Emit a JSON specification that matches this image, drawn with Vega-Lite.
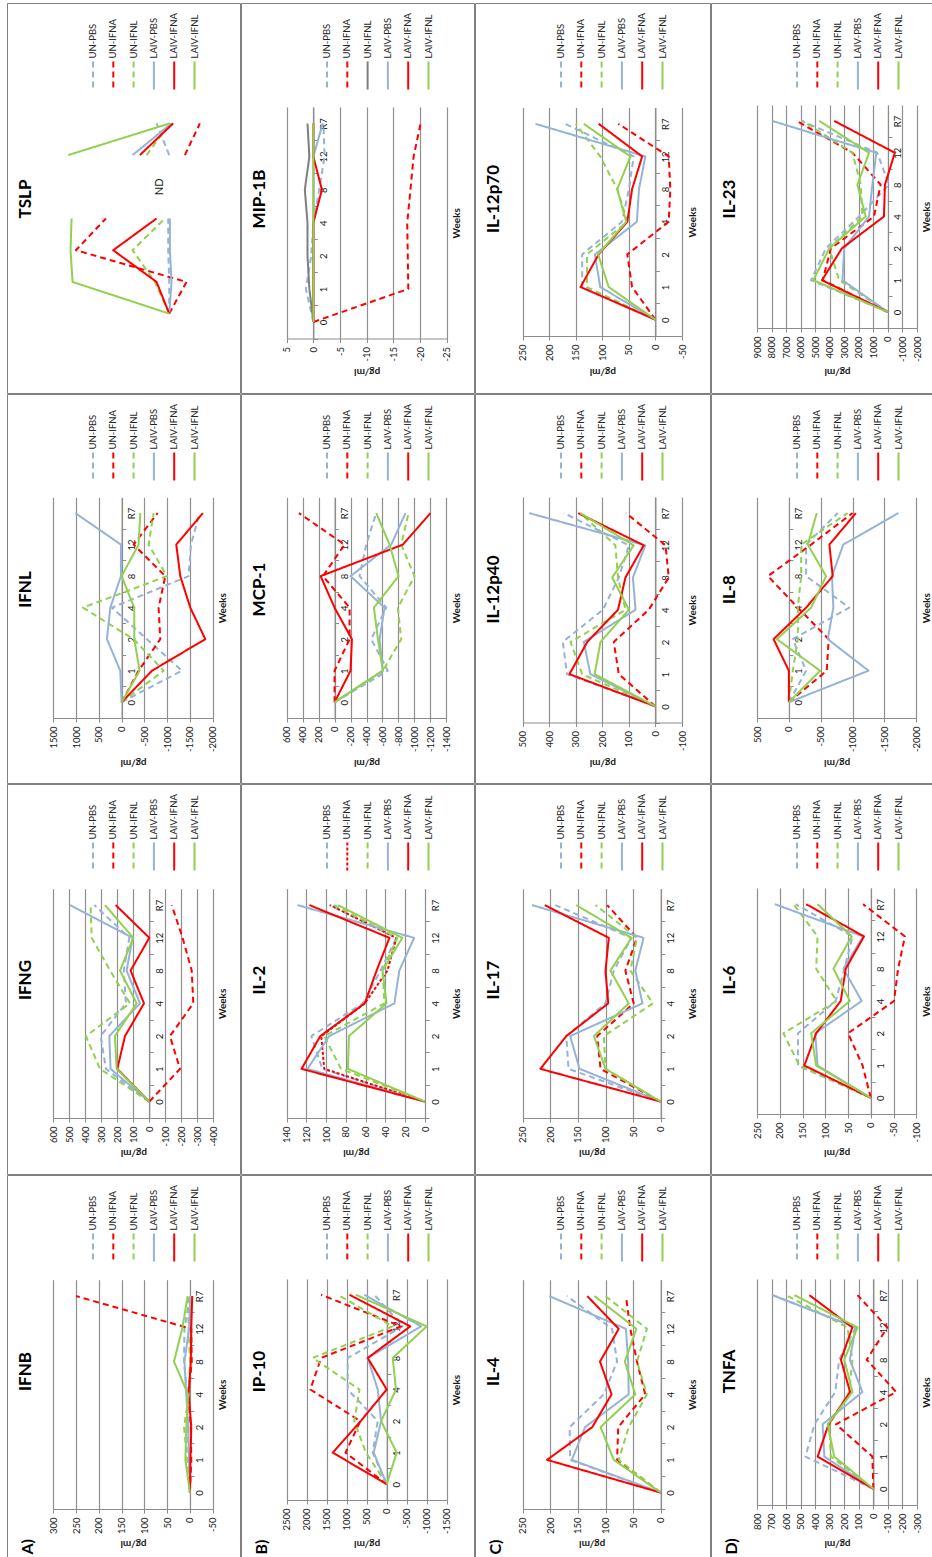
{
  "$schema": "https://vega.github.io/schema/vega-lite/v6.json",
  "background": "white",
  "padding": {"left": 6, "top": 2, "right": 0, "bottom": 0},
  "spacing": -2,
  "resolve": {"scale": {"color": "independent", "strokeDash": "independent"}, "legend": {"color": "independent", "strokeDash": "independent"}},
  "config": {
    "font": "Lato",
    "view": {"stroke": "#808080", "strokeWidth": 1},
    "title": {"font": "Lato", "fontSize": 17, "fontWeight": "bold", "color": "#000000", "orient": "left", "anchor": "middle", "offset": -27.5, "baseline": "middle", "dx": -1},
    "axis": {"labelFont": "Lato", "labelFontSize": 9.5, "labelColor": "#1a1a1a", "titleFont": "Lato", "titleFontSize": 10, "titleFontWeight": "bold", "titleColor": "#1a1a1a", "domainColor": "#8c8c8c", "tickColor": "#8c8c8c", "gridColor": "#8f8f8f", "gridWidth": 1.2, "domainWidth": 1, "tickWidth": 1},
    "legend": {"labelFont": "Lato", "labelFontSize": 9.5, "labelColor": "#262626", "columnPadding": 9.3, "padding": 0, "labelLimit": 200}
  },
  "datasets": {
    "cytokines": [
      {"panel":"IFNB","series":"UN-PBS","0":0,"1":3,"2":4,"4":6,"8":13,"12":12,"R7":0},
      {"panel":"IFNB","series":"UN-IFNA","0":0,"1":-3,"2":-2,"4":3,"8":-4,"12":-3,"R7":250},
      {"panel":"IFNB","series":"UN-IFNL","0":0,"1":6,"2":13,"4":2,"8":0,"12":3,"R7":4},
      {"panel":"IFNB","series":"LAIV-PBS","0":0,"1":2,"2":4,"4":8,"8":12,"12":2,"R7":-1},
      {"panel":"IFNB","series":"LAIV-IFNA","0":0,"1":-1,"2":-3,"4":3,"8":-2,"12":-3,"R7":-5},
      {"panel":"IFNB","series":"LAIV-IFNL","0":0,"1":10,"2":8,"4":4,"8":35,"12":17,"R7":5},

      {"panel":"IP-10","series":"UN-PBS","0":0,"1":350,"2":225,"4":975,"8":975,"12":-400,"R7":310},
      {"panel":"IP-10","series":"UN-IFNA","0":0,"1":1030,"2":660,"4":1910,"8":1640,"12":-360,"R7":1640},
      {"panel":"IP-10","series":"UN-IFNL","0":0,"1":520,"2":810,"4":680,"8":1850,"12":-150,"R7":1220},
      {"panel":"IP-10","series":"LAIV-PBS","0":0,"1":325,"2":140,"4":225,"8":475,"12":-860,"R7":560},
      {"panel":"IP-10","series":"LAIV-IFNA","0":0,"1":1350,"2":650,"4":0,"8":475,"12":-590,"R7":930},
      {"panel":"IP-10","series":"LAIV-IFNL","0":0,"1":-250,"2":140,"4":-233,"8":-150,"12":-1000,"R7":770},

      {"panel":"IL-4","series":"UN-PBS","0":0,"1":164,"2":165,"4":103,"8":79,"12":88,"R7":170},
      {"panel":"IL-4","series":"UN-IFNA","0":0,"1":79,"2":77,"4":28,"8":43,"12":55,"R7":63},
      {"panel":"IL-4","series":"UN-IFNL","0":0,"1":76,"2":58,"4":25,"8":43,"12":25,"R7":100},
      {"panel":"IL-4","series":"LAIV-PBS","0":0,"1":161,"2":137,"4":58,"8":59,"12":63,"R7":202},
      {"panel":"IL-4","series":"LAIV-IFNA","0":0,"1":206,"2":124,"4":89,"8":110,"12":76,"R7":133},
      {"panel":"IL-4","series":"LAIV-IFNL","0":0,"1":85,"2":109,"4":46,"8":65,"12":44,"R7":120},

      {"panel":"TNFA","series":"UN-PBS","0":0,"1":467,"2":405,"4":262,"8":235,"12":121,"R7":690},
      {"panel":"TNFA","series":"UN-IFNA","0":0,"1":7,"2":257,"4":-157,"8":46,"12":-96,"R7":109},
      {"panel":"TNFA","series":"UN-IFNL","0":0,"1":292,"2":303,"4":166,"8":144,"12":178,"R7":600},
      {"panel":"TNFA","series":"LAIV-PBS","0":0,"1":337,"2":349,"4":75,"8":162,"12":121,"R7":695},
      {"panel":"TNFA","series":"LAIV-IFNA","0":0,"1":383,"2":308,"4":160,"8":223,"12":144,"R7":440},
      {"panel":"TNFA","series":"LAIV-IFNL","0":0,"1":269,"2":314,"4":144,"8":200,"12":109,"R7":542},

      {"panel":"IFNG","series":"UN-PBS","0":0,"1":271,"2":304,"4":146,"8":160,"12":125,"R7":344},
      {"panel":"IFNG","series":"UN-IFNA","0":0,"1":-192,"2":-129,"4":-275,"8":-265,"12":-208,"R7":-140},
      {"panel":"IFNG","series":"UN-IFNL","0":0,"1":308,"2":396,"4":121,"8":245,"12":360,"R7":367},
      {"panel":"IFNG","series":"LAIV-PBS","0":0,"1":242,"2":250,"4":58,"8":142,"12":104,"R7":496},
      {"panel":"IFNG","series":"LAIV-IFNA","0":0,"1":200,"2":152,"4":33,"8":117,"12":0,"R7":210},
      {"panel":"IFNG","series":"LAIV-IFNL","0":0,"1":204,"2":215,"4":79,"8":183,"12":100,"R7":277},

      {"panel":"IL-2","series":"UN-PBS","0":0,"1":104,"2":115,"4":63,"8":45,"12":29,"R7":97},
      {"panel":"IL-2","series":"UN-IFNA","0":0,"1":102,"2":105,"4":61,"8":38,"12":29,"R7":96},
      {"panel":"IL-2","series":"UN-IFNL","0":0,"1":85,"2":102,"4":41,"8":43,"12":28,"R7":92},
      {"panel":"IL-2","series":"LAIV-PBS","0":0,"1":119,"2":97,"4":31,"8":26,"12":11,"R7":129},
      {"panel":"IL-2","series":"LAIV-IFNA","0":0,"1":125,"2":106,"4":61,"8":49,"12":36,"R7":117},
      {"panel":"IL-2","series":"LAIV-IFNL","0":0,"1":78,"2":77,"4":39,"8":43,"12":23,"R7":88},

      {"panel":"IL-17","series":"UN-PBS","0":0,"1":167,"2":171,"4":100,"8":85,"12":53,"R7":191},
      {"panel":"IL-17","series":"UN-IFNA","0":0,"1":109,"2":115,"4":49,"8":64,"12":43,"R7":97},
      {"panel":"IL-17","series":"UN-IFNL","0":0,"1":100,"2":103,"4":14,"8":55,"12":43,"R7":118},
      {"panel":"IL-17","series":"LAIV-PBS","0":0,"1":147,"2":164,"4":33,"8":46,"12":31,"R7":233},
      {"panel":"IL-17","series":"LAIV-IFNA","0":0,"1":218,"2":171,"4":95,"8":100,"12":94,"R7":210},
      {"panel":"IL-17","series":"LAIV-IFNL","0":0,"1":100,"2":121,"4":58,"8":91,"12":53,"R7":153},

      {"panel":"IL-6","series":"UN-PBS","0":0,"1":160,"2":160,"4":77,"8":58,"12":40,"R7":165},
      {"panel":"IL-6","series":"UN-IFNA","0":0,"1":18,"2":50,"4":-51,"8":-60,"12":-75,"R7":17},
      {"panel":"IL-6","series":"UN-IFNL","0":0,"1":157,"2":192,"4":75,"8":120,"12":117,"R7":170},
      {"panel":"IL-6","series":"LAIV-PBS","0":0,"1":117,"2":122,"4":20,"8":60,"12":17,"R7":211},
      {"panel":"IL-6","series":"LAIV-IFNA","0":0,"1":146,"2":120,"4":66,"8":55,"12":15,"R7":142},
      {"panel":"IL-6","series":"LAIV-IFNL","0":0,"1":120,"2":131,"4":46,"8":82,"12":42,"R7":117},

      {"panel":"IFNL","series":"UN-PBS","0":0,"1":-1325,"2":-556,"4":212,"8":-1471,"12":-1523,"R7":-1713},
      {"panel":"IFNL","series":"UN-IFNA","0":0,"1":-373,"2":-849,"4":-812,"8":-959,"12":-264,"R7":-790},
      {"panel":"IFNL","series":"UN-IFNL","0":0,"1":-922,"2":-264,"4":849,"8":-995,"12":-593,"R7":-703},
      {"panel":"IFNL","series":"LAIV-PBS","0":0,"1":30,"2":322,"4":249,"8":15,"12":15,"R7":1017},
      {"panel":"IFNL","series":"LAIV-IFNA","0":0,"1":-666,"2":-1837,"4":-1508,"8":-1288,"12":-1200,"R7":-1786},
      {"panel":"IFNL","series":"LAIV-IFNL","0":0,"1":-395,"2":-278,"4":-278,"8":0,"12":-373,"R7":-410},

      {"panel":"MCP-1","series":"UN-PBS","0":0,"1":-668,"2":-459,"4":-647,"8":-313,"12":-397,"R7":-522},
      {"panel":"MCP-1","series":"UN-IFNA","0":0,"1":0,"2":-188,"4":-188,"8":146,"12":-125,"R7":447},
      {"panel":"MCP-1","series":"UN-IFNL","0":0,"1":-605,"2":-835,"4":-793,"8":-1002,"12":-835,"R7":-927},
      {"panel":"MCP-1","series":"LAIV-PBS","0":0,"1":-605,"2":-564,"4":-626,"8":-200,"12":-710,"R7":-889},
      {"panel":"MCP-1","series":"LAIV-IFNA","0":0,"1":-200,"2":-217,"4":0,"8":175,"12":-856,"R7":-1202},
      {"panel":"MCP-1","series":"LAIV-IFNL","0":0,"1":-605,"2":-543,"4":-493,"8":-802,"12":-689,"R7":-522},

      {"panel":"IL-12p40","series":"UN-PBS","0":0,"1":333,"2":349,"4":198,"8":138,"12":100,"R7":345},
      {"panel":"IL-12p40","series":"UN-IFNA","0":0,"1":138,"2":157,"4":25,"8":-50,"12":-38,"R7":111},
      {"panel":"IL-12p40","series":"UN-IFNL","0":0,"1":276,"2":320,"4":113,"8":141,"12":151,"R7":283},
      {"panel":"IL-12p40","series":"LAIV-PBS","0":0,"1":245,"2":270,"4":75,"8":85,"12":38,"R7":475},
      {"panel":"IL-12p40","series":"LAIV-IFNA","0":0,"1":324,"2":257,"4":141,"8":113,"12":44,"R7":291},
      {"panel":"IL-12p40","series":"LAIV-IFNL","0":0,"1":229,"2":207,"4":100,"8":163,"12":82,"R7":283},

      {"panel":"IL-8","series":"UN-PBS","0":0,"1":-271,"2":-62,"4":-948,"8":-271,"12":-271,"R7":-766},
      {"panel":"IL-8","series":"UN-IFNA","0":0,"1":-594,"2":-625,"4":-141,"8":328,"12":-349,"R7":-1000},
      {"panel":"IL-8","series":"UN-IFNL","0":0,"1":-62,"2":-141,"4":-141,"8":-193,"12":-193,"R7":-922},
      {"panel":"IL-8","series":"LAIV-PBS","0":0,"1":-1250,"2":-610,"4":-698,"8":-677,"12":-854,"R7":-1719},
      {"panel":"IL-8","series":"LAIV-IFNA","0":0,"1":0,"2":240,"4":-271,"8":-688,"12":-636,"R7":-1052},
      {"panel":"IL-8","series":"LAIV-IFNL","0":0,"1":-490,"2":188,"4":-349,"8":-584,"12":-297,"R7":-438},

      {"panel":"TSLP","series":"UN-PBS","0":0,"1":0,"2":14,"4":14,"8":null,"12":0,"R7":175},
      {"panel":"TSLP","series":"UN-IFNA","0":0,"1":-239,"2":1288,"4":874,"8":null,"12":-216,"R7":-423},
      {"panel":"TSLP","series":"UN-IFNL","0":0,"1":198,"2":506,"4":60,"8":null,"12":313,"R7":-9},
      {"panel":"TSLP","series":"LAIV-PBS","0":0,"1":-32,"2":-9,"4":-9,"8":null,"12":506,"R7":-32},
      {"panel":"TSLP","series":"LAIV-IFNA","0":0,"1":175,"2":773,"4":175,"8":null,"12":405,"R7":-55},
      {"panel":"TSLP","series":"LAIV-IFNL","0":0,"1":1334,"2":1362,"4":1348,"8":null,"12":1394,"R7":-9},

      {"panel":"MIP-1B","series":"UN-PBS","0":0,"1":1.4,"2":0.4,"4":0,"8":-1.1,"12":-2.1,"R7":-1.9},
      {"panel":"MIP-1B","series":"UN-IFNA","0":0,"1":-17.8,"2":-17.7,"4":-17.6,"8":-18.2,"12":-18.8,"R7":-20.1},
      {"panel":"MIP-1B","series":"UN-IFNL","0":0,"1":0.75,"2":1.1,"4":1.1,"8":1.6,"12":0.75,"R7":1.1},
      {"panel":"MIP-1B","series":"LAIV-PBS","0":0,"1":0,"2":0,"4":0,"8":0,"12":0,"R7":-1.75},
      {"panel":"MIP-1B","series":"LAIV-IFNA","0":0,"1":0,"2":0,"4":0,"8":-1.6,"12":0,"R7":0},
      {"panel":"MIP-1B","series":"LAIV-IFNL","0":0,"1":0,"2":0,"4":0,"8":0,"12":0,"R7":0},

      {"panel":"IL-12p70","series":"UN-PBS","0":0,"1":138,"2":138,"4":63,"8":50,"12":41,"R7":170},
      {"panel":"IL-12p70","series":"UN-IFNA","0":0,"1":44,"2":53,"4":-25,"8":-28,"12":-25,"R7":70},
      {"panel":"IL-12p70","series":"UN-IFNL","0":0,"1":129,"2":129,"4":53,"8":72,"12":104,"R7":150},
      {"panel":"IL-12p70","series":"LAIV-PBS","0":0,"1":104,"2":114,"4":35,"8":31,"12":19,"R7":226},
      {"panel":"IL-12p70","series":"LAIV-IFNA","0":0,"1":141,"2":107,"4":53,"8":44,"12":25,"R7":107},
      {"panel":"IL-12p70","series":"LAIV-IFNL","0":0,"1":88,"2":108,"4":55,"8":72,"12":47,"R7":135},

      {"panel":"IL-23","series":"UN-PBS","0":0,"1":5285,"2":4260,"4":1982,"8":-68,"12":729,"R7":5968},
      {"panel":"IL-23","series":"UN-IFNA","0":0,"1":4487,"2":3918,"4":957,"8":501,"12":2437,"R7":6264},
      {"panel":"IL-23","series":"UN-IFNL","0":0,"1":3349,"2":4032,"4":1754,"8":1868,"12":2437,"R7":5854},
      {"panel":"IL-23","series":"LAIV-PBS","0":0,"1":3121,"2":3007,"4":1298,"8":1071,"12":797,"R7":7950},
      {"panel":"IL-23","series":"LAIV-IFNA","0":0,"1":4533,"2":3166,"4":273,"8":205,"12":-478,"R7":3690},
      {"panel":"IL-23","series":"LAIV-IFNL","0":0,"1":5125,"2":4032,"4":1526,"8":2096,"12":1298,"R7":4715}
    ],
    "notes": [
      {"panel": "TSLP", "week": "8", "value": 130, "note": "ND"}
    ]
  },
  "hconcat": [
    {
      "title": {"text": "A)", "orient": "left", "anchor": "start", "offset": -37, "baseline": "middle", "font": "Lato", "fontSize": 16, "fontWeight": "bold", "dx": 4},
      "spacing": -2,
      "resolve": {"scale": {"color": "independent", "strokeDash": "independent"}, "legend": {"color": "independent", "strokeDash": "independent"}},
      "vconcat": [
        {
          "width": 233, "height": 390,
          "title": {"text": "TSLP"},
          "layer": [
            {
              "data": {"name": "cytokines"},
              "transform": [{"filter": {"field": "panel", "equal": "TSLP"}}, {"fold": ["0","1","2","4","8","12","R7"], "as": ["week","value"]}],
              "mark": {"type": "line", "strokeWidth": 2, "strokeJoin": "round"},
              "encoding": {
                "x": {"field": "value", "type": "quantitative",
                  "scale": {"domain": [-600, 1600], "range": [205.7, 46.3], "nice": false, "zero": false},
                  "axis": {"orient": "top", "offset": -326.5, "values": [-600,-400,-200,0,200,400,600,800,1000,1200,1400,1600], "labelExpr": "datum.value + ''", "grid": true, "tickSize": -4, "labelPadding": -4, "labelAngle": 270, "labelAlign": "right", "labelBaseline": "middle", "labelFlush": false, "labelOverlap": false, "title": "pg/ml", "titleX": 126, "titleY": 41.5, "titleAngle": 180, "titleAlign": "center", "titleBaseline": "middle"}},
                "y": {"field": "week", "type": "ordinal",
                  "scale": {"type": "band", "domain": ["0","1","2","4","8","12","R7"], "range": [326.5, 104.5], "paddingInner": 0, "paddingOuter": 0},
                  "axis": {"orient": "right", "offset": -70.8, "title": "Weeks", "titleX": 52.8, "titleY": 215.5, "grid": false, "tickBand": "extent", "tickSize": 4, "labelPadding": 1, "labelAngle": 270, "labelAlign": "center", "labelBaseline": "top", "titleAngle": 270, "titleAlign": "center", "titleBaseline": "middle"}},
                "color": {"field": "series", "type": "nominal",
                  "scale": {"domain": ["UN-PBS","UN-IFNA","UN-IFNL","LAIV-PBS","LAIV-IFNA","LAIV-IFNL"], "range": ["#95B3D7","#FF0000","#92D050","#95B3D7","#FF0000","#92D050"]},
                  "legend": {"title": null, "orient": "none", "legendX": 86, "legendY": 72.5, "direction": "horizontal", "symbolType": "M0,-1L0,1", "symbolSize": 784, "symbolStrokeWidth": 2, "encode": {"labels": {"update": {"angle": {"value": 270}, "align": {"value": "left"}, "baseline": {"value": "middle"}, "x": {"value": 0}, "y": {"value": -17}}}, "symbols": {"update": {"x": {"value": 0}, "y": {"value": 0}}}}}},
                "strokeDash": {"field": "series", "type": "nominal",
                  "scale": {"domain": ["UN-PBS","UN-IFNA","UN-IFNL","LAIV-PBS","LAIV-IFNA","LAIV-IFNL"], "range": [[6,4],[6,4],[6,4],[1,0],[1,0],[1,0]]},
                  "legend": {"title": null, "orient": "none", "legendX": 86, "legendY": 72.5, "direction": "horizontal", "symbolType": "M0,-1L0,1", "symbolSize": 784, "symbolStrokeWidth": 2, "encode": {"labels": {"update": {"angle": {"value": 270}, "align": {"value": "left"}, "baseline": {"value": "middle"}, "x": {"value": 0}, "y": {"value": -17}}}, "symbols": {"update": {"x": {"value": 0}, "y": {"value": 0}}}}}},
                "order": {"value": null}
              }
            },
            {
              "data": {"name": "notes"},
              "transform": [{"filter": {"field": "panel", "equal": "TSLP"}}],
              "mark": {"type": "text", "angle": 270, "font": "Lato", "fontSize": 11, "color": "#1a1a1a", "align": "center", "baseline": "middle"},
              "encoding": {
                "x": {"field": "value", "type": "quantitative", "axis": null},
                "y": {"field": "week", "type": "ordinal", "axis": null},
                "text": {"field": "note"}
              }
            }
          ]
        },
        {
          "width": 233, "height": 389,
          "title": {"text": "IFNL"},
          "layer": [
            {
              "data": {"name": "cytokines"},
              "transform": [{"filter": {"field": "panel", "equal": "IFNL"}}, {"fold": ["0","1","2","4","8","12","R7"], "as": ["week","value"]}],
              "mark": {"type": "line", "strokeWidth": 2, "strokeJoin": "round"},
              "encoding": {
                "x": {"field": "value", "type": "quantitative",
                  "scale": {"domain": [-2000, 1500], "range": [205.7, 46.3], "nice": false, "zero": false},
                  "axis": {"orient": "top", "offset": -324, "values": [-2000,-1500,-1000,-500,0,500,1000,1500], "labelExpr": "datum.value + ''", "grid": true, "tickSize": -4, "labelPadding": -4, "labelAngle": 270, "labelAlign": "right", "labelBaseline": "middle", "labelFlush": false, "labelOverlap": false, "title": "pg/ml", "titleX": 126, "titleY": 44, "titleAngle": 180, "titleAlign": "center", "titleBaseline": "middle"}},
                "y": {"field": "week", "type": "ordinal",
                  "scale": {"type": "band", "domain": ["0","1","2","4","8","12","R7"], "range": [324, 103.3], "paddingInner": 0, "paddingOuter": 0},
                  "axis": {"orient": "right", "offset": -118.4, "title": "Weeks", "titleX": 100.4, "titleY": 213.65, "grid": false, "tickBand": "extent", "tickSize": 4, "labelPadding": 1, "labelAngle": 270, "labelAlign": "center", "labelBaseline": "top", "titleAngle": 270, "titleAlign": "center", "titleBaseline": "middle"}},
                "color": {"field": "series", "type": "nominal",
                  "scale": {"domain": ["UN-PBS","UN-IFNA","UN-IFNL","LAIV-PBS","LAIV-IFNA","LAIV-IFNL"], "range": ["#95B3D7","#FF0000","#92D050","#95B3D7","#FF0000","#92D050"]},
                  "legend": {"title": null, "orient": "none", "legendX": 86, "legendY": 72.5, "direction": "horizontal", "symbolType": "M0,-1L0,1", "symbolSize": 784, "symbolStrokeWidth": 2, "encode": {"labels": {"update": {"angle": {"value": 270}, "align": {"value": "left"}, "baseline": {"value": "middle"}, "x": {"value": 0}, "y": {"value": -17}}}, "symbols": {"update": {"x": {"value": 0}, "y": {"value": 0}}}}}},
                "strokeDash": {"field": "series", "type": "nominal",
                  "scale": {"domain": ["UN-PBS","UN-IFNA","UN-IFNL","LAIV-PBS","LAIV-IFNA","LAIV-IFNL"], "range": [[6,4],[6,4],[6,4],[1,0],[1,0],[1,0]]},
                  "legend": {"title": null, "orient": "none", "legendX": 86, "legendY": 72.5, "direction": "horizontal", "symbolType": "M0,-1L0,1", "symbolSize": 784, "symbolStrokeWidth": 2, "encode": {"labels": {"update": {"angle": {"value": 270}, "align": {"value": "left"}, "baseline": {"value": "middle"}, "x": {"value": 0}, "y": {"value": -17}}}, "symbols": {"update": {"x": {"value": 0}, "y": {"value": 0}}}}}},
                "order": {"value": null}
              }
            }
          ]
        },
        {
          "width": 233, "height": 390,
          "title": {"text": "IFNG"},
          "layer": [
            {
              "data": {"name": "cytokines"},
              "transform": [{"filter": {"field": "panel", "equal": "IFNG"}}, {"fold": ["0","1","2","4","8","12","R7"], "as": ["week","value"]}],
              "mark": {"type": "line", "strokeWidth": 2, "strokeJoin": "round"},
              "encoding": {
                "x": {"field": "value", "type": "quantitative",
                  "scale": {"domain": [-400, 600], "range": [206.3, 46.3], "nice": false, "zero": false},
                  "axis": {"orient": "top", "offset": -334, "values": [-400,-300,-200,-100,0,100,200,300,400,500,600], "labelExpr": "datum.value + ''", "grid": true, "tickSize": -4, "labelPadding": -4, "labelAngle": 270, "labelAlign": "right", "labelBaseline": "middle", "labelFlush": false, "labelOverlap": false, "title": "pg/ml", "titleX": 126.3, "titleY": 34, "titleAngle": 180, "titleAlign": "center", "titleBaseline": "middle"}},
                "y": {"field": "week", "type": "ordinal",
                  "scale": {"type": "band", "domain": ["0","1","2","4","8","12","R7"], "range": [334, 104.7], "paddingInner": 0, "paddingOuter": 0},
                  "axis": {"orient": "right", "offset": -90.7, "title": "Weeks", "titleX": 72.7, "titleY": 219.35, "grid": false, "tickBand": "extent", "tickSize": 4, "labelPadding": 1, "labelAngle": 270, "labelAlign": "center", "labelBaseline": "top", "titleAngle": 270, "titleAlign": "center", "titleBaseline": "middle"}},
                "color": {"field": "series", "type": "nominal",
                  "scale": {"domain": ["UN-PBS","UN-IFNA","UN-IFNL","LAIV-PBS","LAIV-IFNA","LAIV-IFNL"], "range": ["#95B3D7","#FF0000","#92D050","#95B3D7","#FF0000","#92D050"]},
                  "legend": {"title": null, "orient": "none", "legendX": 86, "legendY": 72.5, "direction": "horizontal", "symbolType": "M0,-1L0,1", "symbolSize": 784, "symbolStrokeWidth": 2, "encode": {"labels": {"update": {"angle": {"value": 270}, "align": {"value": "left"}, "baseline": {"value": "middle"}, "x": {"value": 0}, "y": {"value": -17}}}, "symbols": {"update": {"x": {"value": 0}, "y": {"value": 0}}}}}},
                "strokeDash": {"field": "series", "type": "nominal",
                  "scale": {"domain": ["UN-PBS","UN-IFNA","UN-IFNL","LAIV-PBS","LAIV-IFNA","LAIV-IFNL"], "range": [[6,4],[6,4],[6,4],[1,0],[1,0],[1,0]]},
                  "legend": {"title": null, "orient": "none", "legendX": 86, "legendY": 72.5, "direction": "horizontal", "symbolType": "M0,-1L0,1", "symbolSize": 784, "symbolStrokeWidth": 2, "encode": {"labels": {"update": {"angle": {"value": 270}, "align": {"value": "left"}, "baseline": {"value": "middle"}, "x": {"value": 0}, "y": {"value": -17}}}, "symbols": {"update": {"x": {"value": 0}, "y": {"value": 0}}}}}},
                "order": {"value": null}
              }
            }
          ]
        },
        {
          "width": 233, "height": 383,
          "title": {"text": "IFNB", "dx": -5},
          "layer": [
            {
              "data": {"name": "cytokines"},
              "transform": [{"filter": {"field": "panel", "equal": "IFNB"}}, {"fold": ["0","1","2","4","8","12","R7"], "as": ["week","value"]}],
              "mark": {"type": "line", "strokeWidth": 2, "strokeJoin": "round"},
              "encoding": {
                "x": {"field": "value", "type": "quantitative",
                  "scale": {"domain": [-50, 300], "range": [205.7, 46.3], "nice": false, "zero": false},
                  "axis": {"orient": "top", "offset": -334, "values": [-50,0,50,100,150,200,250,300], "labelExpr": "datum.value + ''", "grid": true, "tickSize": -4, "labelPadding": -4, "labelAngle": 270, "labelAlign": "right", "labelBaseline": "middle", "labelFlush": false, "labelOverlap": false, "title": "pg/ml", "titleX": 126, "titleY": 34, "titleAngle": 180, "titleAlign": "center", "titleBaseline": "middle"}},
                "y": {"field": "week", "type": "ordinal",
                  "scale": {"type": "band", "domain": ["0","1","2","4","8","12","R7"], "range": [334, 104.7], "paddingInner": 0, "paddingOuter": 0},
                  "axis": {"orient": "right", "offset": -50.1, "title": "Weeks", "titleX": 32.1, "titleY": 219.35, "grid": false, "tickBand": "extent", "tickSize": 4, "labelPadding": 1, "labelAngle": 270, "labelAlign": "center", "labelBaseline": "top", "titleAngle": 270, "titleAlign": "center", "titleBaseline": "middle"}},
                "color": {"field": "series", "type": "nominal",
                  "scale": {"domain": ["UN-PBS","UN-IFNA","UN-IFNL","LAIV-PBS","LAIV-IFNA","LAIV-IFNL"], "range": ["#95B3D7","#FF0000","#92D050","#95B3D7","#FF0000","#92D050"]},
                  "legend": {"title": null, "orient": "none", "legendX": 86, "legendY": 72.5, "direction": "horizontal", "symbolType": "M0,-1L0,1", "symbolSize": 784, "symbolStrokeWidth": 2, "encode": {"labels": {"update": {"angle": {"value": 270}, "align": {"value": "left"}, "baseline": {"value": "middle"}, "x": {"value": 0}, "y": {"value": -17}}}, "symbols": {"update": {"x": {"value": 0}, "y": {"value": 0}}}}}},
                "strokeDash": {"field": "series", "type": "nominal",
                  "scale": {"domain": ["UN-PBS","UN-IFNA","UN-IFNL","LAIV-PBS","LAIV-IFNA","LAIV-IFNL"], "range": [[6,4],[6,4],[6,4],[1,0],[1,0],[1,0]]},
                  "legend": {"title": null, "orient": "none", "legendX": 86, "legendY": 72.5, "direction": "horizontal", "symbolType": "M0,-1L0,1", "symbolSize": 784, "symbolStrokeWidth": 2, "encode": {"labels": {"update": {"angle": {"value": 270}, "align": {"value": "left"}, "baseline": {"value": "middle"}, "x": {"value": 0}, "y": {"value": -17}}}, "symbols": {"update": {"x": {"value": 0}, "y": {"value": 0}}}}}},
                "order": {"value": null}
              }
            }
          ]
        }
      ]
    },
    {
      "title": {"text": "B)", "orient": "left", "anchor": "start", "offset": -37, "baseline": "middle", "font": "Lato", "fontSize": 16, "fontWeight": "bold", "dx": 4},
      "spacing": -2,
      "resolve": {"scale": {"color": "independent", "strokeDash": "independent"}, "legend": {"color": "independent", "strokeDash": "independent"}},
      "vconcat": [
        {
          "width": 233, "height": 390,
          "title": {"text": "MIP-1B"},
          "layer": [
            {
              "data": {"name": "cytokines"},
              "transform": [{"filter": {"field": "panel", "equal": "MIP-1B"}}, {"fold": ["0","1","2","4","8","12","R7"], "as": ["week","value"]}],
              "mark": {"type": "line", "strokeWidth": 2, "strokeJoin": "round"},
              "encoding": {
                "x": {"field": "value", "type": "quantitative",
                  "scale": {"domain": [-25, 5], "range": [205.7, 45.7], "nice": false, "zero": false},
                  "axis": {"orient": "top", "offset": -335.5, "values": [-25,-20,-15,-10,-5,0,5], "labelExpr": "datum.value + ''", "grid": true, "tickSize": -4, "labelPadding": -4, "labelAngle": 270, "labelAlign": "right", "labelBaseline": "middle", "labelFlush": false, "labelOverlap": false, "title": "pg/ml", "titleX": 125.7, "titleY": 32.5, "titleAngle": 180, "titleAlign": "center", "titleBaseline": "middle"}},
                "y": {"field": "week", "type": "ordinal",
                  "scale": {"type": "band", "domain": ["0","1","2","4","8","12","R7"], "range": [335.5, 104], "paddingInner": 0, "paddingOuter": 0},
                  "axis": {"orient": "right", "offset": -160.6, "title": "Weeks", "titleX": 142.6, "titleY": 219.75, "grid": false, "tickBand": "extent", "tickSize": 4, "labelPadding": 1, "labelAngle": 270, "labelAlign": "center", "labelBaseline": "top", "titleAngle": 270, "titleAlign": "center", "titleBaseline": "middle"}},
                "color": {"field": "series", "type": "nominal",
                  "scale": {"domain": ["UN-PBS","UN-IFNA","UN-IFNL","LAIV-PBS","LAIV-IFNA","LAIV-IFNL"], "range": ["#95B3D7","#FF0000","#7F7F7F","#95B3D7","#FF0000","#92D050"]},
                  "legend": {"title": null, "orient": "none", "legendX": 86, "legendY": 72.5, "direction": "horizontal", "symbolType": "M0,-1L0,1", "symbolSize": 784, "symbolStrokeWidth": 2, "encode": {"labels": {"update": {"angle": {"value": 270}, "align": {"value": "left"}, "baseline": {"value": "middle"}, "x": {"value": 0}, "y": {"value": -17}}}, "symbols": {"update": {"x": {"value": 0}, "y": {"value": 0}}}}}},
                "strokeDash": {"field": "series", "type": "nominal",
                  "scale": {"domain": ["UN-PBS","UN-IFNA","UN-IFNL","LAIV-PBS","LAIV-IFNA","LAIV-IFNL"], "range": [[6,4],[6,4],[1,0],[1,0],[1,0],[1,0]]},
                  "legend": {"title": null, "orient": "none", "legendX": 86, "legendY": 72.5, "direction": "horizontal", "symbolType": "M0,-1L0,1", "symbolSize": 784, "symbolStrokeWidth": 2, "encode": {"labels": {"update": {"angle": {"value": 270}, "align": {"value": "left"}, "baseline": {"value": "middle"}, "x": {"value": 0}, "y": {"value": -17}}}, "symbols": {"update": {"x": {"value": 0}, "y": {"value": 0}}}}}},
                "order": {"value": null}
              }
            }
          ]
        },
        {
          "width": 233, "height": 389,
          "title": {"text": "MCP-1"},
          "layer": [
            {
              "data": {"name": "cytokines"},
              "transform": [{"filter": {"field": "panel", "equal": "MCP-1"}}, {"fold": ["0","1","2","4","8","12","R7"], "as": ["week","value"]}],
              "mark": {"type": "line", "strokeWidth": 2, "strokeJoin": "round"},
              "encoding": {
                "x": {"field": "value", "type": "quantitative",
                  "scale": {"domain": [-1400, 600], "range": [205.3, 45.7], "nice": false, "zero": false},
                  "axis": {"orient": "top", "offset": -324, "values": [-1400,-1200,-1000,-800,-600,-400,-200,0,200,400,600], "labelExpr": "datum.value + ''", "grid": true, "tickSize": -4, "labelPadding": -4, "labelAngle": 270, "labelAlign": "right", "labelBaseline": "middle", "labelFlush": false, "labelOverlap": false, "title": "pg/ml", "titleX": 125.5, "titleY": 44, "titleAngle": 180, "titleAlign": "center", "titleBaseline": "middle"}},
                "y": {"field": "week", "type": "ordinal",
                  "scale": {"type": "band", "domain": ["0","1","2","4","8","12","R7"], "range": [324, 103.3], "paddingInner": 0, "paddingOuter": 0},
                  "axis": {"orient": "right", "offset": -139.4, "title": "Weeks", "titleX": 121.4, "titleY": 213.65, "grid": false, "tickBand": "extent", "tickSize": 4, "labelPadding": 1, "labelAngle": 270, "labelAlign": "center", "labelBaseline": "top", "titleAngle": 270, "titleAlign": "center", "titleBaseline": "middle"}},
                "color": {"field": "series", "type": "nominal",
                  "scale": {"domain": ["UN-PBS","UN-IFNA","UN-IFNL","LAIV-PBS","LAIV-IFNA","LAIV-IFNL"], "range": ["#95B3D7","#FF0000","#92D050","#95B3D7","#FF0000","#92D050"]},
                  "legend": {"title": null, "orient": "none", "legendX": 86, "legendY": 72.5, "direction": "horizontal", "symbolType": "M0,-1L0,1", "symbolSize": 784, "symbolStrokeWidth": 2, "encode": {"labels": {"update": {"angle": {"value": 270}, "align": {"value": "left"}, "baseline": {"value": "middle"}, "x": {"value": 0}, "y": {"value": -17}}}, "symbols": {"update": {"x": {"value": 0}, "y": {"value": 0}}}}}},
                "strokeDash": {"field": "series", "type": "nominal",
                  "scale": {"domain": ["UN-PBS","UN-IFNA","UN-IFNL","LAIV-PBS","LAIV-IFNA","LAIV-IFNL"], "range": [[6,4],[6,4],[6,4],[1,0],[1,0],[1,0]]},
                  "legend": {"title": null, "orient": "none", "legendX": 86, "legendY": 72.5, "direction": "horizontal", "symbolType": "M0,-1L0,1", "symbolSize": 784, "symbolStrokeWidth": 2, "encode": {"labels": {"update": {"angle": {"value": 270}, "align": {"value": "left"}, "baseline": {"value": "middle"}, "x": {"value": 0}, "y": {"value": -17}}}, "symbols": {"update": {"x": {"value": 0}, "y": {"value": 0}}}}}},
                "order": {"value": null}
              }
            }
          ]
        },
        {
          "width": 233, "height": 390,
          "title": {"text": "IL-2"},
          "layer": [
            {
              "data": {"name": "cytokines"},
              "transform": [{"filter": {"field": "panel", "equal": "IL-2"}}, {"fold": ["0","1","2","4","8","12","R7"], "as": ["week","value"]}],
              "mark": {"type": "line", "strokeWidth": 2, "strokeJoin": "round"},
              "encoding": {
                "x": {"field": "value", "type": "quantitative",
                  "scale": {"domain": [0, 140], "range": [184, 45.7], "nice": false, "zero": false},
                  "axis": {"orient": "top", "offset": -334, "values": [0,20,40,60,80,100,120,140], "labelExpr": "datum.value + ''", "grid": true, "tickSize": -4, "labelPadding": -4, "labelAngle": 270, "labelAlign": "right", "labelBaseline": "middle", "labelFlush": false, "labelOverlap": false, "title": "pg/ml", "titleX": 114.85, "titleY": 34, "titleAngle": 180, "titleAlign": "center", "titleBaseline": "middle"}},
                "y": {"field": "week", "type": "ordinal",
                  "scale": {"type": "band", "domain": ["0","1","2","4","8","12","R7"], "range": [334, 104.7], "paddingInner": 0, "paddingOuter": 0},
                  "axis": {"orient": "right", "offset": -49, "title": "Weeks", "titleX": 31, "titleY": 219.35, "grid": false, "tickBand": "extent", "tickSize": 4, "labelPadding": 1, "labelAngle": 270, "labelAlign": "center", "labelBaseline": "top", "titleAngle": 270, "titleAlign": "center", "titleBaseline": "middle"}},
                "color": {"field": "series", "type": "nominal",
                  "scale": {"domain": ["UN-PBS","UN-IFNA","UN-IFNL","LAIV-PBS","LAIV-IFNA","LAIV-IFNL"], "range": ["#95B3D7","#FF0000","#92D050","#95B3D7","#FF0000","#92D050"]},
                  "legend": {"title": null, "orient": "none", "legendX": 86, "legendY": 72.5, "direction": "horizontal", "symbolType": "M0,-1L0,1", "symbolSize": 784, "symbolStrokeWidth": 2, "encode": {"labels": {"update": {"angle": {"value": 270}, "align": {"value": "left"}, "baseline": {"value": "middle"}, "x": {"value": 0}, "y": {"value": -17}}}, "symbols": {"update": {"x": {"value": 0}, "y": {"value": 0}}}}}},
                "strokeDash": {"field": "series", "type": "nominal",
                  "scale": {"domain": ["UN-PBS","UN-IFNA","UN-IFNL","LAIV-PBS","LAIV-IFNA","LAIV-IFNL"], "range": [[6,4],[3,2],[6,4],[1,0],[1,0],[1,0]]},
                  "legend": {"title": null, "orient": "none", "legendX": 86, "legendY": 72.5, "direction": "horizontal", "symbolType": "M0,-1L0,1", "symbolSize": 784, "symbolStrokeWidth": 2, "encode": {"labels": {"update": {"angle": {"value": 270}, "align": {"value": "left"}, "baseline": {"value": "middle"}, "x": {"value": 0}, "y": {"value": -17}}}, "symbols": {"update": {"x": {"value": 0}, "y": {"value": 0}}}}}},
                "order": {"value": null}
              }
            }
          ]
        },
        {
          "width": 233, "height": 383,
          "title": {"text": "IP-10", "dx": -5},
          "layer": [
            {
              "data": {"name": "cytokines"},
              "transform": [{"filter": {"field": "panel", "equal": "IP-10"}}, {"fold": ["0","1","2","4","8","12","R7"], "as": ["week","value"]}],
              "mark": {"type": "line", "strokeWidth": 2, "strokeJoin": "round"},
              "encoding": {
                "x": {"field": "value", "type": "quantitative",
                  "scale": {"domain": [-1500, 2500], "range": [205.7, 45.7], "nice": false, "zero": false},
                  "axis": {"orient": "top", "offset": -325, "values": [-1500,-1000,-500,0,500,1000,1500,2000,2500], "labelExpr": "datum.value + ''", "grid": true, "tickSize": -4, "labelPadding": -4, "labelAngle": 270, "labelAlign": "right", "labelBaseline": "middle", "labelFlush": false, "labelOverlap": false, "title": "pg/ml", "titleX": 125.7, "titleY": 43, "titleAngle": 180, "titleAlign": "center", "titleBaseline": "middle"}},
                "y": {"field": "week", "type": "ordinal",
                  "scale": {"type": "band", "domain": ["0","1","2","4","8","12","R7"], "range": [325, 104], "paddingInner": 0, "paddingOuter": 0},
                  "axis": {"orient": "right", "offset": -87.3, "title": "Weeks", "titleX": 69.3, "titleY": 214.5, "grid": false, "tickBand": "extent", "tickSize": 4, "labelPadding": 1, "labelAngle": 270, "labelAlign": "center", "labelBaseline": "top", "titleAngle": 270, "titleAlign": "center", "titleBaseline": "middle"}},
                "color": {"field": "series", "type": "nominal",
                  "scale": {"domain": ["UN-PBS","UN-IFNA","UN-IFNL","LAIV-PBS","LAIV-IFNA","LAIV-IFNL"], "range": ["#95B3D7","#FF0000","#92D050","#95B3D7","#FF0000","#92D050"]},
                  "legend": {"title": null, "orient": "none", "legendX": 86, "legendY": 72.5, "direction": "horizontal", "symbolType": "M0,-1L0,1", "symbolSize": 784, "symbolStrokeWidth": 2, "encode": {"labels": {"update": {"angle": {"value": 270}, "align": {"value": "left"}, "baseline": {"value": "middle"}, "x": {"value": 0}, "y": {"value": -17}}}, "symbols": {"update": {"x": {"value": 0}, "y": {"value": 0}}}}}},
                "strokeDash": {"field": "series", "type": "nominal",
                  "scale": {"domain": ["UN-PBS","UN-IFNA","UN-IFNL","LAIV-PBS","LAIV-IFNA","LAIV-IFNL"], "range": [[6,4],[6,4],[6,4],[1,0],[1,0],[1,0]]},
                  "legend": {"title": null, "orient": "none", "legendX": 86, "legendY": 72.5, "direction": "horizontal", "symbolType": "M0,-1L0,1", "symbolSize": 784, "symbolStrokeWidth": 2, "encode": {"labels": {"update": {"angle": {"value": 270}, "align": {"value": "left"}, "baseline": {"value": "middle"}, "x": {"value": 0}, "y": {"value": -17}}}, "symbols": {"update": {"x": {"value": 0}, "y": {"value": 0}}}}}},
                "order": {"value": null}
              }
            }
          ]
        }
      ]
    },
    {
      "title": {"text": "C)", "orient": "left", "anchor": "start", "offset": -37, "baseline": "middle", "font": "Lato", "fontSize": 16, "fontWeight": "bold", "dx": 4},
      "spacing": -2,
      "resolve": {"scale": {"color": "independent", "strokeDash": "independent"}, "legend": {"color": "independent", "strokeDash": "independent"}},
      "vconcat": [
        {
          "width": 235, "height": 390,
          "title": {"text": "IL-12p70"},
          "layer": [
            {
              "data": {"name": "cytokines"},
              "transform": [{"filter": {"field": "panel", "equal": "IL-12p70"}}, {"fold": ["0","1","2","4","8","12","R7"], "as": ["week","value"]}],
              "mark": {"type": "line", "strokeWidth": 2, "strokeJoin": "round"},
              "encoding": {
                "x": {"field": "value", "type": "quantitative",
                  "scale": {"domain": [-50, 250], "range": [207, 47.7], "nice": false, "zero": false},
                  "axis": {"orient": "top", "offset": -333, "values": [-50,0,50,100,150,200,250], "labelExpr": "datum.value + ''", "grid": true, "tickSize": -4, "labelPadding": -4, "labelAngle": 270, "labelAlign": "right", "labelBaseline": "middle", "labelFlush": false, "labelOverlap": false, "title": "pg/ml", "titleX": 127.35, "titleY": 35, "titleAngle": 180, "titleAlign": "center", "titleBaseline": "middle"}},
                "y": {"field": "week", "type": "ordinal",
                  "scale": {"type": "band", "domain": ["0","1","2","4","8","12","R7"], "range": [333, 104.5], "paddingInner": 0, "paddingOuter": 0},
                  "axis": {"orient": "right", "offset": -54.55, "title": "Weeks", "titleX": 36.55, "titleY": 218.75, "grid": false, "tickBand": "extent", "tickSize": 4, "labelPadding": 1, "labelAngle": 270, "labelAlign": "center", "labelBaseline": "top", "titleAngle": 270, "titleAlign": "center", "titleBaseline": "middle"}},
                "color": {"field": "series", "type": "nominal",
                  "scale": {"domain": ["UN-PBS","UN-IFNA","UN-IFNL","LAIV-PBS","LAIV-IFNA","LAIV-IFNL"], "range": ["#95B3D7","#FF0000","#92D050","#95B3D7","#FF0000","#92D050"]},
                  "legend": {"title": null, "orient": "none", "legendX": 86, "legendY": 72.5, "direction": "horizontal", "symbolType": "M0,-1L0,1", "symbolSize": 784, "symbolStrokeWidth": 2, "encode": {"labels": {"update": {"angle": {"value": 270}, "align": {"value": "left"}, "baseline": {"value": "middle"}, "x": {"value": 0}, "y": {"value": -17}}}, "symbols": {"update": {"x": {"value": 0}, "y": {"value": 0}}}}}},
                "strokeDash": {"field": "series", "type": "nominal",
                  "scale": {"domain": ["UN-PBS","UN-IFNA","UN-IFNL","LAIV-PBS","LAIV-IFNA","LAIV-IFNL"], "range": [[6,4],[6,4],[6,4],[1,0],[1,0],[1,0]]},
                  "legend": {"title": null, "orient": "none", "legendX": 86, "legendY": 72.5, "direction": "horizontal", "symbolType": "M0,-1L0,1", "symbolSize": 784, "symbolStrokeWidth": 2, "encode": {"labels": {"update": {"angle": {"value": 270}, "align": {"value": "left"}, "baseline": {"value": "middle"}, "x": {"value": 0}, "y": {"value": -17}}}, "symbols": {"update": {"x": {"value": 0}, "y": {"value": 0}}}}}},
                "order": {"value": null}
              }
            }
          ]
        },
        {
          "width": 235, "height": 389,
          "title": {"text": "IL-12p40"},
          "layer": [
            {
              "data": {"name": "cytokines"},
              "transform": [{"filter": {"field": "panel", "equal": "IL-12p40"}}, {"fold": ["0","1","2","4","8","12","R7"], "as": ["week","value"]}],
              "mark": {"type": "line", "strokeWidth": 2, "strokeJoin": "round"},
              "encoding": {
                "x": {"field": "value", "type": "quantitative",
                  "scale": {"domain": [-100, 500], "range": [207, 47.7], "nice": false, "zero": false},
                  "axis": {"orient": "top", "offset": -328.5, "values": [-100,0,100,200,300,400,500], "labelExpr": "datum.value + ''", "grid": true, "tickSize": -4, "labelPadding": -4, "labelAngle": 270, "labelAlign": "right", "labelBaseline": "middle", "labelFlush": false, "labelOverlap": false, "title": "pg/ml", "titleX": 127.35, "titleY": 39.5, "titleAngle": 180, "titleAlign": "center", "titleBaseline": "middle"}},
                "y": {"field": "week", "type": "ordinal",
                  "scale": {"type": "band", "domain": ["0","1","2","4","8","12","R7"], "range": [328.5, 103], "paddingInner": 0, "paddingOuter": 0},
                  "axis": {"orient": "right", "offset": -54.55, "title": "Weeks", "titleX": 36.55, "titleY": 215.75, "grid": false, "tickBand": "extent", "tickSize": 4, "labelPadding": 1, "labelAngle": 270, "labelAlign": "center", "labelBaseline": "top", "titleAngle": 270, "titleAlign": "center", "titleBaseline": "middle"}},
                "color": {"field": "series", "type": "nominal",
                  "scale": {"domain": ["UN-PBS","UN-IFNA","UN-IFNL","LAIV-PBS","LAIV-IFNA","LAIV-IFNL"], "range": ["#95B3D7","#FF0000","#92D050","#95B3D7","#FF0000","#92D050"]},
                  "legend": {"title": null, "orient": "none", "legendX": 86, "legendY": 72.5, "direction": "horizontal", "symbolType": "M0,-1L0,1", "symbolSize": 784, "symbolStrokeWidth": 2, "encode": {"labels": {"update": {"angle": {"value": 270}, "align": {"value": "left"}, "baseline": {"value": "middle"}, "x": {"value": 0}, "y": {"value": -17}}}, "symbols": {"update": {"x": {"value": 0}, "y": {"value": 0}}}}}},
                "strokeDash": {"field": "series", "type": "nominal",
                  "scale": {"domain": ["UN-PBS","UN-IFNA","UN-IFNL","LAIV-PBS","LAIV-IFNA","LAIV-IFNL"], "range": [[6,4],[6,4],[6,4],[1,0],[1,0],[1,0]]},
                  "legend": {"title": null, "orient": "none", "legendX": 86, "legendY": 72.5, "direction": "horizontal", "symbolType": "M0,-1L0,1", "symbolSize": 784, "symbolStrokeWidth": 2, "encode": {"labels": {"update": {"angle": {"value": 270}, "align": {"value": "left"}, "baseline": {"value": "middle"}, "x": {"value": 0}, "y": {"value": -17}}}, "symbols": {"update": {"x": {"value": 0}, "y": {"value": 0}}}}}},
                "order": {"value": null}
              }
            }
          ]
        },
        {
          "width": 235, "height": 390,
          "title": {"text": "IL-17"},
          "layer": [
            {
              "data": {"name": "cytokines"},
              "transform": [{"filter": {"field": "panel", "equal": "IL-17"}}, {"fold": ["0","1","2","4","8","12","R7"], "as": ["week","value"]}],
              "mark": {"type": "line", "strokeWidth": 2, "strokeJoin": "round"},
              "encoding": {
                "x": {"field": "value", "type": "quantitative",
                  "scale": {"domain": [0, 250], "range": [185.7, 47.7], "nice": false, "zero": false},
                  "axis": {"orient": "top", "offset": -334, "values": [0,50,100,150,200,250], "labelExpr": "datum.value + ''", "grid": true, "tickSize": -4, "labelPadding": -4, "labelAngle": 270, "labelAlign": "right", "labelBaseline": "middle", "labelFlush": false, "labelOverlap": false, "title": "pg/ml", "titleX": 116.7, "titleY": 34, "titleAngle": 180, "titleAlign": "center", "titleBaseline": "middle"}},
                "y": {"field": "week", "type": "ordinal",
                  "scale": {"type": "band", "domain": ["0","1","2","4","8","12","R7"], "range": [334, 104.7], "paddingInner": 0, "paddingOuter": 0},
                  "axis": {"orient": "right", "offset": -49.3, "title": "Weeks", "titleX": 31.3, "titleY": 219.35, "grid": false, "tickBand": "extent", "tickSize": 4, "labelPadding": 1, "labelAngle": 270, "labelAlign": "center", "labelBaseline": "top", "titleAngle": 270, "titleAlign": "center", "titleBaseline": "middle"}},
                "color": {"field": "series", "type": "nominal",
                  "scale": {"domain": ["UN-PBS","UN-IFNA","UN-IFNL","LAIV-PBS","LAIV-IFNA","LAIV-IFNL"], "range": ["#95B3D7","#FF0000","#92D050","#95B3D7","#FF0000","#92D050"]},
                  "legend": {"title": null, "orient": "none", "legendX": 86, "legendY": 72.5, "direction": "horizontal", "symbolType": "M0,-1L0,1", "symbolSize": 784, "symbolStrokeWidth": 2, "encode": {"labels": {"update": {"angle": {"value": 270}, "align": {"value": "left"}, "baseline": {"value": "middle"}, "x": {"value": 0}, "y": {"value": -17}}}, "symbols": {"update": {"x": {"value": 0}, "y": {"value": 0}}}}}},
                "strokeDash": {"field": "series", "type": "nominal",
                  "scale": {"domain": ["UN-PBS","UN-IFNA","UN-IFNL","LAIV-PBS","LAIV-IFNA","LAIV-IFNL"], "range": [[6,4],[6,4],[6,4],[1,0],[1,0],[1,0]]},
                  "legend": {"title": null, "orient": "none", "legendX": 86, "legendY": 72.5, "direction": "horizontal", "symbolType": "M0,-1L0,1", "symbolSize": 784, "symbolStrokeWidth": 2, "encode": {"labels": {"update": {"angle": {"value": 270}, "align": {"value": "left"}, "baseline": {"value": "middle"}, "x": {"value": 0}, "y": {"value": -17}}}, "symbols": {"update": {"x": {"value": 0}, "y": {"value": 0}}}}}},
                "order": {"value": null}
              }
            }
          ]
        },
        {
          "width": 235, "height": 383,
          "title": {"text": "IL-4", "dx": -5},
          "layer": [
            {
              "data": {"name": "cytokines"},
              "transform": [{"filter": {"field": "panel", "equal": "IL-4"}}, {"fold": ["0","1","2","4","8","12","R7"], "as": ["week","value"]}],
              "mark": {"type": "line", "strokeWidth": 2, "strokeJoin": "round"},
              "encoding": {
                "x": {"field": "value", "type": "quantitative",
                  "scale": {"domain": [0, 250], "range": [185.7, 47.7], "nice": false, "zero": false},
                  "axis": {"orient": "top", "offset": -334, "values": [0,50,100,150,200,250], "labelExpr": "datum.value + ''", "grid": true, "tickSize": -4, "labelPadding": -4, "labelAngle": 270, "labelAlign": "right", "labelBaseline": "middle", "labelFlush": false, "labelOverlap": false, "title": "pg/ml", "titleX": 116.7, "titleY": 34, "titleAngle": 180, "titleAlign": "center", "titleBaseline": "middle"}},
                "y": {"field": "week", "type": "ordinal",
                  "scale": {"type": "band", "domain": ["0","1","2","4","8","12","R7"], "range": [334, 104.7], "paddingInner": 0, "paddingOuter": 0},
                  "axis": {"orient": "right", "offset": -49.3, "title": "Weeks", "titleX": 31.3, "titleY": 219.35, "grid": false, "tickBand": "extent", "tickSize": 4, "labelPadding": 1, "labelAngle": 270, "labelAlign": "center", "labelBaseline": "top", "titleAngle": 270, "titleAlign": "center", "titleBaseline": "middle"}},
                "color": {"field": "series", "type": "nominal",
                  "scale": {"domain": ["UN-PBS","UN-IFNA","UN-IFNL","LAIV-PBS","LAIV-IFNA","LAIV-IFNL"], "range": ["#95B3D7","#FF0000","#92D050","#95B3D7","#FF0000","#92D050"]},
                  "legend": {"title": null, "orient": "none", "legendX": 86, "legendY": 72.5, "direction": "horizontal", "symbolType": "M0,-1L0,1", "symbolSize": 784, "symbolStrokeWidth": 2, "encode": {"labels": {"update": {"angle": {"value": 270}, "align": {"value": "left"}, "baseline": {"value": "middle"}, "x": {"value": 0}, "y": {"value": -17}}}, "symbols": {"update": {"x": {"value": 0}, "y": {"value": 0}}}}}},
                "strokeDash": {"field": "series", "type": "nominal",
                  "scale": {"domain": ["UN-PBS","UN-IFNA","UN-IFNL","LAIV-PBS","LAIV-IFNA","LAIV-IFNL"], "range": [[6,4],[6,4],[6,4],[1,0],[1,0],[1,0]]},
                  "legend": {"title": null, "orient": "none", "legendX": 86, "legendY": 72.5, "direction": "horizontal", "symbolType": "M0,-1L0,1", "symbolSize": 784, "symbolStrokeWidth": 2, "encode": {"labels": {"update": {"angle": {"value": 270}, "align": {"value": "left"}, "baseline": {"value": "middle"}, "x": {"value": 0}, "y": {"value": -17}}}, "symbols": {"update": {"x": {"value": 0}, "y": {"value": 0}}}}}},
                "order": {"value": null}
              }
            }
          ]
        }
      ]
    },
    {
      "title": {"text": "D)", "orient": "left", "anchor": "start", "offset": -37, "baseline": "middle", "font": "Lato", "fontSize": 16, "fontWeight": "bold", "dx": 4},
      "spacing": -2,
      "resolve": {"scale": {"color": "independent", "strokeDash": "independent"}, "legend": {"color": "independent", "strokeDash": "independent"}},
      "vconcat": [
        {
          "width": 223, "height": 390,
          "title": {"text": "IL-23"},
          "layer": [
            {
              "data": {"name": "cytokines"},
              "transform": [{"filter": {"field": "panel", "equal": "IL-23"}}, {"fold": ["0","1","2","4","8","12","R7"], "as": ["week","value"]}],
              "mark": {"type": "line", "strokeWidth": 2, "strokeJoin": "round"},
              "encoding": {
                "x": {"field": "value", "type": "quantitative",
                  "scale": {"domain": [-2000, 9000], "range": [206, 46], "nice": false, "zero": false},
                  "axis": {"orient": "top", "offset": -325, "values": [-2000,-1000,0,1000,2000,3000,4000,5000,6000,7000,8000,9000], "labelExpr": "datum.value + ''", "grid": true, "tickSize": -4, "labelPadding": -4, "labelAngle": 270, "labelAlign": "right", "labelBaseline": "middle", "labelFlush": false, "labelOverlap": false, "title": "pg/ml", "titleX": 126, "titleY": 43, "titleAngle": 180, "titleAlign": "center", "titleBaseline": "middle"}},
                "y": {"field": "week", "type": "ordinal",
                  "scale": {"type": "band", "domain": ["0","1","2","4","8","12","R7"], "range": [325, 102], "paddingInner": 0, "paddingOuter": 0},
                  "axis": {"orient": "right", "offset": -46.1, "title": "Weeks", "titleX": 38.1, "titleY": 213.5, "grid": false, "tickBand": "extent", "tickSize": 4, "labelPadding": 1, "labelAngle": 270, "labelAlign": "center", "labelBaseline": "top", "titleAngle": 270, "titleAlign": "center", "titleBaseline": "middle"}},
                "color": {"field": "series", "type": "nominal",
                  "scale": {"domain": ["UN-PBS","UN-IFNA","UN-IFNL","LAIV-PBS","LAIV-IFNA","LAIV-IFNL"], "range": ["#95B3D7","#FF0000","#92D050","#95B3D7","#FF0000","#92D050"]},
                  "legend": {"title": null, "orient": "none", "legendX": 86, "legendY": 72.5, "direction": "horizontal", "symbolType": "M0,-1L0,1", "symbolSize": 784, "symbolStrokeWidth": 2, "encode": {"labels": {"update": {"angle": {"value": 270}, "align": {"value": "left"}, "baseline": {"value": "middle"}, "x": {"value": 0}, "y": {"value": -17}}}, "symbols": {"update": {"x": {"value": 0}, "y": {"value": 0}}}}}},
                "strokeDash": {"field": "series", "type": "nominal",
                  "scale": {"domain": ["UN-PBS","UN-IFNA","UN-IFNL","LAIV-PBS","LAIV-IFNA","LAIV-IFNL"], "range": [[6,4],[6,4],[6,4],[1,0],[1,0],[1,0]]},
                  "legend": {"title": null, "orient": "none", "legendX": 86, "legendY": 72.5, "direction": "horizontal", "symbolType": "M0,-1L0,1", "symbolSize": 784, "symbolStrokeWidth": 2, "encode": {"labels": {"update": {"angle": {"value": 270}, "align": {"value": "left"}, "baseline": {"value": "middle"}, "x": {"value": 0}, "y": {"value": -17}}}, "symbols": {"update": {"x": {"value": 0}, "y": {"value": 0}}}}}},
                "order": {"value": null}
              }
            }
          ]
        },
        {
          "width": 223, "height": 389,
          "title": {"text": "IL-8"},
          "layer": [
            {
              "data": {"name": "cytokines"},
              "transform": [{"filter": {"field": "panel", "equal": "IL-8"}}, {"fold": ["0","1","2","4","8","12","R7"], "as": ["week","value"]}],
              "mark": {"type": "line", "strokeWidth": 2, "strokeJoin": "round"},
              "encoding": {
                "x": {"field": "value", "type": "quantitative",
                  "scale": {"domain": [-2000, 500], "range": [205.3, 46], "nice": false, "zero": false},
                  "axis": {"orient": "top", "offset": -324, "values": [-2000,-1500,-1000,-500,0,500], "labelExpr": "datum.value + ''", "grid": true, "tickSize": -4, "labelPadding": -4, "labelAngle": 270, "labelAlign": "right", "labelBaseline": "middle", "labelFlush": false, "labelOverlap": false, "title": "pg/ml", "titleX": 125.65, "titleY": 44, "titleAngle": 180, "titleAlign": "center", "titleBaseline": "middle"}},
                "y": {"field": "week", "type": "ordinal",
                  "scale": {"type": "band", "domain": ["0","1","2","4","8","12","R7"], "range": [324, 103.3], "paddingInner": 0, "paddingOuter": 0},
                  "axis": {"orient": "right", "offset": -145.1, "title": "Weeks", "titleX": 137.1, "titleY": 213.65, "grid": false, "tickBand": "extent", "tickSize": 4, "labelPadding": 1, "labelAngle": 270, "labelAlign": "center", "labelBaseline": "top", "titleAngle": 270, "titleAlign": "center", "titleBaseline": "middle"}},
                "color": {"field": "series", "type": "nominal",
                  "scale": {"domain": ["UN-PBS","UN-IFNA","UN-IFNL","LAIV-PBS","LAIV-IFNA","LAIV-IFNL"], "range": ["#95B3D7","#FF0000","#92D050","#95B3D7","#FF0000","#92D050"]},
                  "legend": {"title": null, "orient": "none", "legendX": 86, "legendY": 72.5, "direction": "horizontal", "symbolType": "M0,-1L0,1", "symbolSize": 784, "symbolStrokeWidth": 2, "encode": {"labels": {"update": {"angle": {"value": 270}, "align": {"value": "left"}, "baseline": {"value": "middle"}, "x": {"value": 0}, "y": {"value": -17}}}, "symbols": {"update": {"x": {"value": 0}, "y": {"value": 0}}}}}},
                "strokeDash": {"field": "series", "type": "nominal",
                  "scale": {"domain": ["UN-PBS","UN-IFNA","UN-IFNL","LAIV-PBS","LAIV-IFNA","LAIV-IFNL"], "range": [[6,4],[6,4],[6,4],[1,0],[1,0],[1,0]]},
                  "legend": {"title": null, "orient": "none", "legendX": 86, "legendY": 72.5, "direction": "horizontal", "symbolType": "M0,-1L0,1", "symbolSize": 784, "symbolStrokeWidth": 2, "encode": {"labels": {"update": {"angle": {"value": 270}, "align": {"value": "left"}, "baseline": {"value": "middle"}, "x": {"value": 0}, "y": {"value": -17}}}, "symbols": {"update": {"x": {"value": 0}, "y": {"value": 0}}}}}},
                "order": {"value": null}
              }
            }
          ]
        },
        {
          "width": 223, "height": 390,
          "title": {"text": "IL-6"},
          "layer": [
            {
              "data": {"name": "cytokines"},
              "transform": [{"filter": {"field": "panel", "equal": "IL-6"}}, {"fold": ["0","1","2","4","8","12","R7"], "as": ["week","value"]}],
              "mark": {"type": "line", "strokeWidth": 2, "strokeJoin": "round"},
              "encoding": {
                "x": {"field": "value", "type": "quantitative",
                  "scale": {"domain": [-100, 250], "range": [205.3, 46], "nice": false, "zero": false},
                  "axis": {"orient": "top", "offset": -330, "values": [-100,-50,0,50,100,150,200,250], "labelExpr": "datum.value + ''", "grid": true, "tickSize": -4, "labelPadding": -4, "labelAngle": 270, "labelAlign": "right", "labelBaseline": "middle", "labelFlush": false, "labelOverlap": false, "title": "pg/ml", "titleX": 125.65, "titleY": 38, "titleAngle": 180, "titleAlign": "center", "titleBaseline": "middle"}},
                "y": {"field": "week", "type": "ordinal",
                  "scale": {"type": "band", "domain": ["0","1","2","4","8","12","R7"], "range": [330, 104], "paddingInner": 0, "paddingOuter": 0},
                  "axis": {"orient": "right", "offset": -63.2, "title": "Weeks", "titleX": 55.2, "titleY": 217, "grid": false, "tickBand": "extent", "tickSize": 4, "labelPadding": 1, "labelAngle": 270, "labelAlign": "center", "labelBaseline": "top", "titleAngle": 270, "titleAlign": "center", "titleBaseline": "middle"}},
                "color": {"field": "series", "type": "nominal",
                  "scale": {"domain": ["UN-PBS","UN-IFNA","UN-IFNL","LAIV-PBS","LAIV-IFNA","LAIV-IFNL"], "range": ["#95B3D7","#FF0000","#92D050","#95B3D7","#FF0000","#92D050"]},
                  "legend": {"title": null, "orient": "none", "legendX": 86, "legendY": 72.5, "direction": "horizontal", "symbolType": "M0,-1L0,1", "symbolSize": 784, "symbolStrokeWidth": 2, "encode": {"labels": {"update": {"angle": {"value": 270}, "align": {"value": "left"}, "baseline": {"value": "middle"}, "x": {"value": 0}, "y": {"value": -17}}}, "symbols": {"update": {"x": {"value": 0}, "y": {"value": 0}}}}}},
                "strokeDash": {"field": "series", "type": "nominal",
                  "scale": {"domain": ["UN-PBS","UN-IFNA","UN-IFNL","LAIV-PBS","LAIV-IFNA","LAIV-IFNL"], "range": [[6,4],[6,4],[6,4],[1,0],[1,0],[1,0]]},
                  "legend": {"title": null, "orient": "none", "legendX": 86, "legendY": 72.5, "direction": "horizontal", "symbolType": "M0,-1L0,1", "symbolSize": 784, "symbolStrokeWidth": 2, "encode": {"labels": {"update": {"angle": {"value": 270}, "align": {"value": "left"}, "baseline": {"value": "middle"}, "x": {"value": 0}, "y": {"value": -17}}}, "symbols": {"update": {"x": {"value": 0}, "y": {"value": 0}}}}}},
                "order": {"value": null}
              }
            }
          ]
        },
        {
          "width": 223, "height": 383,
          "title": {"text": "TNFA", "dx": -5},
          "layer": [
            {
              "data": {"name": "cytokines"},
              "transform": [{"filter": {"field": "panel", "equal": "TNFA"}}, {"fold": ["0","1","2","4","8","12","R7"], "as": ["week","value"]}],
              "mark": {"type": "line", "strokeWidth": 2, "strokeJoin": "round"},
              "encoding": {
                "x": {"field": "value", "type": "quantitative",
                  "scale": {"domain": [-300, 800], "range": [206, 46], "nice": false, "zero": false},
                  "axis": {"orient": "top", "offset": -330, "values": [-300,-200,-100,0,100,200,300,400,500,600,700,800], "labelExpr": "datum.value + ''", "grid": true, "tickSize": -4, "labelPadding": -4, "labelAngle": 270, "labelAlign": "right", "labelBaseline": "middle", "labelFlush": false, "labelOverlap": false, "title": "pg/ml", "titleX": 126, "titleY": 38, "titleAngle": 180, "titleAlign": "center", "titleBaseline": "middle"}},
                "y": {"field": "week", "type": "ordinal",
                  "scale": {"type": "band", "domain": ["0","1","2","4","8","12","R7"], "range": [330, 104], "paddingInner": 0, "paddingOuter": 0},
                  "axis": {"orient": "right", "offset": -60.6, "title": "Weeks", "titleX": 52.6, "titleY": 217, "grid": false, "tickBand": "extent", "tickSize": 4, "labelPadding": 1, "labelAngle": 270, "labelAlign": "center", "labelBaseline": "top", "titleAngle": 270, "titleAlign": "center", "titleBaseline": "middle"}},
                "color": {"field": "series", "type": "nominal",
                  "scale": {"domain": ["UN-PBS","UN-IFNA","UN-IFNL","LAIV-PBS","LAIV-IFNA","LAIV-IFNL"], "range": ["#95B3D7","#FF0000","#92D050","#95B3D7","#FF0000","#92D050"]},
                  "legend": {"title": null, "orient": "none", "legendX": 86, "legendY": 72.5, "direction": "horizontal", "symbolType": "M0,-1L0,1", "symbolSize": 784, "symbolStrokeWidth": 2, "encode": {"labels": {"update": {"angle": {"value": 270}, "align": {"value": "left"}, "baseline": {"value": "middle"}, "x": {"value": 0}, "y": {"value": -17}}}, "symbols": {"update": {"x": {"value": 0}, "y": {"value": 0}}}}}},
                "strokeDash": {"field": "series", "type": "nominal",
                  "scale": {"domain": ["UN-PBS","UN-IFNA","UN-IFNL","LAIV-PBS","LAIV-IFNA","LAIV-IFNL"], "range": [[6,4],[6,4],[6,4],[1,0],[1,0],[1,0]]},
                  "legend": {"title": null, "orient": "none", "legendX": 86, "legendY": 72.5, "direction": "horizontal", "symbolType": "M0,-1L0,1", "symbolSize": 784, "symbolStrokeWidth": 2, "encode": {"labels": {"update": {"angle": {"value": 270}, "align": {"value": "left"}, "baseline": {"value": "middle"}, "x": {"value": 0}, "y": {"value": -17}}}, "symbols": {"update": {"x": {"value": 0}, "y": {"value": 0}}}}}},
                "order": {"value": null}
              }
            }
          ]
        }
      ]
    }
  ]
}
